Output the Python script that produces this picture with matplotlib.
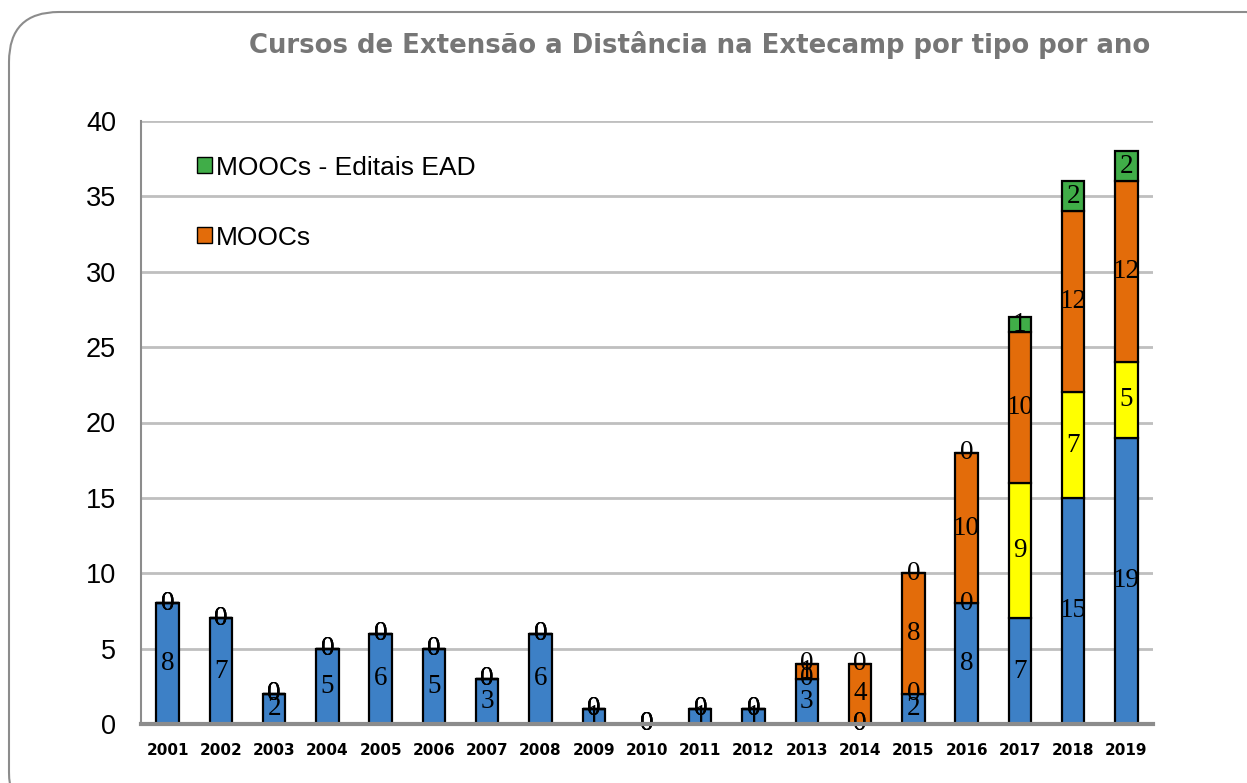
import matplotlib.pyplot as plt
from matplotlib.patches import FancyBboxPatch
from matplotlib.patches import Patch
import numpy as np

# Dados
anos = ['2001', '2002', '2003', '2004', '2005', '2006', '2007', '2008', '2009', '2010',
        '2011', '2012', '2013', '2014', '2015', '2016', '2017', '2018', '2019']
extensao = [8, 7, 2, 5, 6, 5, 3, 6, 1, 0, 1, 1, 3, 0, 2, 8, 7, 15, 19]
amarelo = [0, 0, 0, 0, 0, 0, 0, 0, 0, 0, 0, 0, 0, 0, 0, 0, 9, 7, 5]
moocs = [0, 0, 0, 0, 0, 0, 0, 0, 0, 0, 0, 0, 1, 4, 8, 10, 10, 12, 12]
moocs_editais = [0, 0, 0, 0, 0, 0, 0, 0, 0, 0, 0, 0, 0, 0, 0, 0, 1, 2, 2]

series = [extensao, amarelo, moocs, moocs_editais]
cores = ['#3d80c6', '#ffff00', '#e36c0a', '#40ad48']

W, H = 1247, 783
fig = plt.figure(figsize=(W / 100, H / 100), dpi=100)

# moldura arredondada
frame = FancyBboxPatch((9 / W, -0.05), (W + 40) / W, (H - 12) / H + 0.05,
                       boxstyle='round,pad=0,rounding_size=0.04',
                       transform=fig.transFigure, facecolor='none',
                       edgecolor='#8c8c8c', linewidth=1.5, mutation_aspect=W / H,
                       zorder=-1)
fig.patches.append(frame)

ax = fig.add_axes([141 / W, (H - 724) / H, (1153 - 141) / W, (724 - 121) / H])
ax.set_facecolor('none')

x = np.arange(len(anos))
base = np.zeros(len(anos))
for vals, cor in zip(series, cores):
    vals = np.array(vals)
    ax.bar(x, vals, bottom=base, width=0.42, color=cor, edgecolor='black',
           linewidth=1.6, zorder=3)
    # rótulos de dados (inclusive os zeros, como no original)
    for xi, b, v in zip(x, base, vals):
        ax.text(xi, b + v / 2, str(v), ha='center', va='center', fontsize=19.5,
                family='Liberation Serif', color='black', zorder=4, clip_on=False)
    base = base + vals

ax.set_xlim(-0.5, len(anos) - 0.5)
ax.set_ylim(0, 40)
ax.set_yticks(range(0, 41, 5))
ax.set_xticks(x)
ax.set_xticklabels(anos, fontsize=11, fontweight='bold', family='DejaVu Sans')
ax.tick_params(axis='x', length=0, pad=14)
ax.tick_params(axis='y', length=0, pad=18, labelsize=19.5)
for lbl in ax.get_yticklabels():
    lbl.set_family('Liberation Sans')
ax.grid(axis='y', color='#bfbfbf', linewidth=2, zorder=0)
ax.set_axisbelow(True)
for s in ['top', 'right']:
    ax.spines[s].set_visible(False)
ax.spines['left'].set_color('#8c8c8c')
ax.spines['left'].set_linewidth(1.5)
ax.spines['bottom'].set_color('#8c8c8c')
ax.spines['bottom'].set_linewidth(3)
ax.spines['bottom'].set_zorder(5)

handles = [Patch(facecolor=cores[3], edgecolor='black'),
           Patch(facecolor=cores[2], edgecolor='black')]
leg = ax.legend(handles, ['MOOCs - Editais EAD', 'MOOCs'], loc='upper left',
                bbox_to_anchor=(0.032, 0.982), frameon=False, handlelength=0.55,
                handleheight=0.55, handletextpad=0.15, labelspacing=1.75,
                prop={'family': 'Liberation Sans', 'size': 19})

fig.text(1150 / W, 1 - 45 / H, 'Cursos de Extensão a Distância na Extecamp por tipo por ano',
         ha='right', va='center', fontsize=18.7, fontweight='bold', color='#767676',
         family='DejaVu Sans')

fig.savefig('out.png', dpi=100)
